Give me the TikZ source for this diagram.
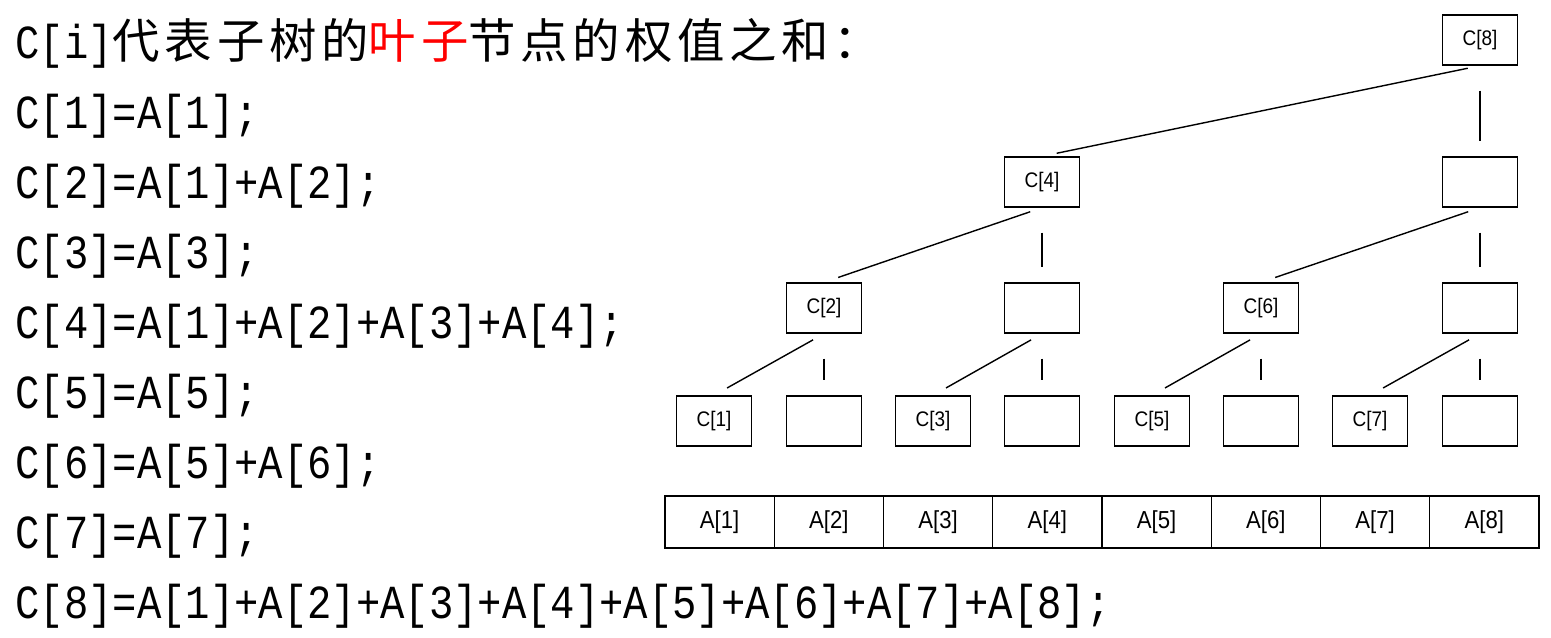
\documentclass[tikz,border=0pt]{standalone}
\usepackage{fontspec}
\setmainfont[FakeStretch=0.855]{Liberation Mono}
\newfontfamily\cjk[LetterSpace=10]{Noto Sans CJK SC}
\newfontfamily\boxf[FakeStretch=0.9]{Liberation Sans}
\usetikzlibrary{calc}
\begin{document}
\begin{tikzpicture}[x=0.02cm,y=-0.02cm,
  bx/.style={draw,line width=0.8pt,minimum width=1.5cm,minimum height=1cm,inner sep=0,font=\boxf\fontsize{12}{12}\selectfont},
  cell/.style={draw,line width=0.8pt,minimum width=2.185cm,minimum height=1.04cm,inner sep=0,font=\boxf\fontsize{14}{14}\selectfont},
  ln/.style={anchor=base west,inner sep=0,font=\fontsize{27}{27}\selectfont},
  sl/.style={line width=0.8pt,shorten <=0.25cm,shorten >=0.3cm},
  vt/.style={line width=0.8pt,shorten <=0.5cm,shorten >=0.3cm}]
\useasboundingbox (0,0) rectangle (1551,637);
% text
\node[ln] (t0) at (15,58) {C[i]{\cjk 代表子树的\textcolor{red}{叶子}节点的权值之和：}};
\node[ln] (t1) at (15,128) {C[1]=A[1];};
\node[ln] (t2) at (15,198) {C[2]=A[1]+A[2];};
\node[ln] (t3) at (15,268) {C[3]=A[3];};
\node[ln] (t4) at (15,338) {C[4]=A[1]+A[2]+A[3]+A[4];};
\node[ln] (t5) at (15,408) {C[5]=A[5];};
\node[ln] (t6) at (15,478) {C[6]=A[5]+A[6];};
\node[ln] (t7) at (15,548) {C[7]=A[7];};
\node[ln] (t8) at (15,618) {C[8]=A[1]+A[2]+A[3]+A[4]+A[5]+A[6]+A[7]+A[8];};
% tree
\node[bx] (c8) at (1480,40) {C[8]};
\node[bx] (c4) at (1042,182) {C[4]};
\node[bx] (e4) at (1480,182) {};
\node[bx] (c2) at (824,308) {C[2]};
\node[bx] (e2a) at (1042,308) {};
\node[bx] (c6) at (1261,308) {C[6]};
\node[bx] (e2b) at (1480,308) {};
\foreach \i/\n/\x in {1/c1/714,2/e1a/824,3/c3/933,4/e1b/1042,5/c5/1152,6/e1c/1261,7/c7/1370,8/e1d/1480}{
  \ifodd\i \node[bx] (\n) at (\x,421) {C[\i]}; \else \node[bx] (\n) at (\x,421) {}; \fi
}
\foreach \i in {1,...,8}{\node[cell] (a\i) at ({665+109.25*(\i-0.5)},522) {A[\i]};}
\draw[sl] (c8.south) -- (c4.north);
\draw[vt] (c8.south) -- (e4.north);
\draw[sl] (c4.south) -- (c2.north);
\draw[vt] (c4.south) -- (e2a.north);
\draw[sl] (e4.south) -- (c6.north);
\draw[vt] (e4.south) -- (e2b.north);
\draw[sl] (c2.south) -- (c1.north);
\draw[vt] (c2.south) -- (e1a.north);
\draw[sl] (e2a.south) -- (c3.north);
\draw[vt] (e2a.south) -- (e1b.north);
\draw[sl] (c6.south) -- (c5.north);
\draw[vt] (c6.south) -- (e1c.north);
\draw[sl] (e2b.south) -- (c7.north);
\draw[vt] (e2b.south) -- (e1d.north);
\end{tikzpicture}
\end{document}
